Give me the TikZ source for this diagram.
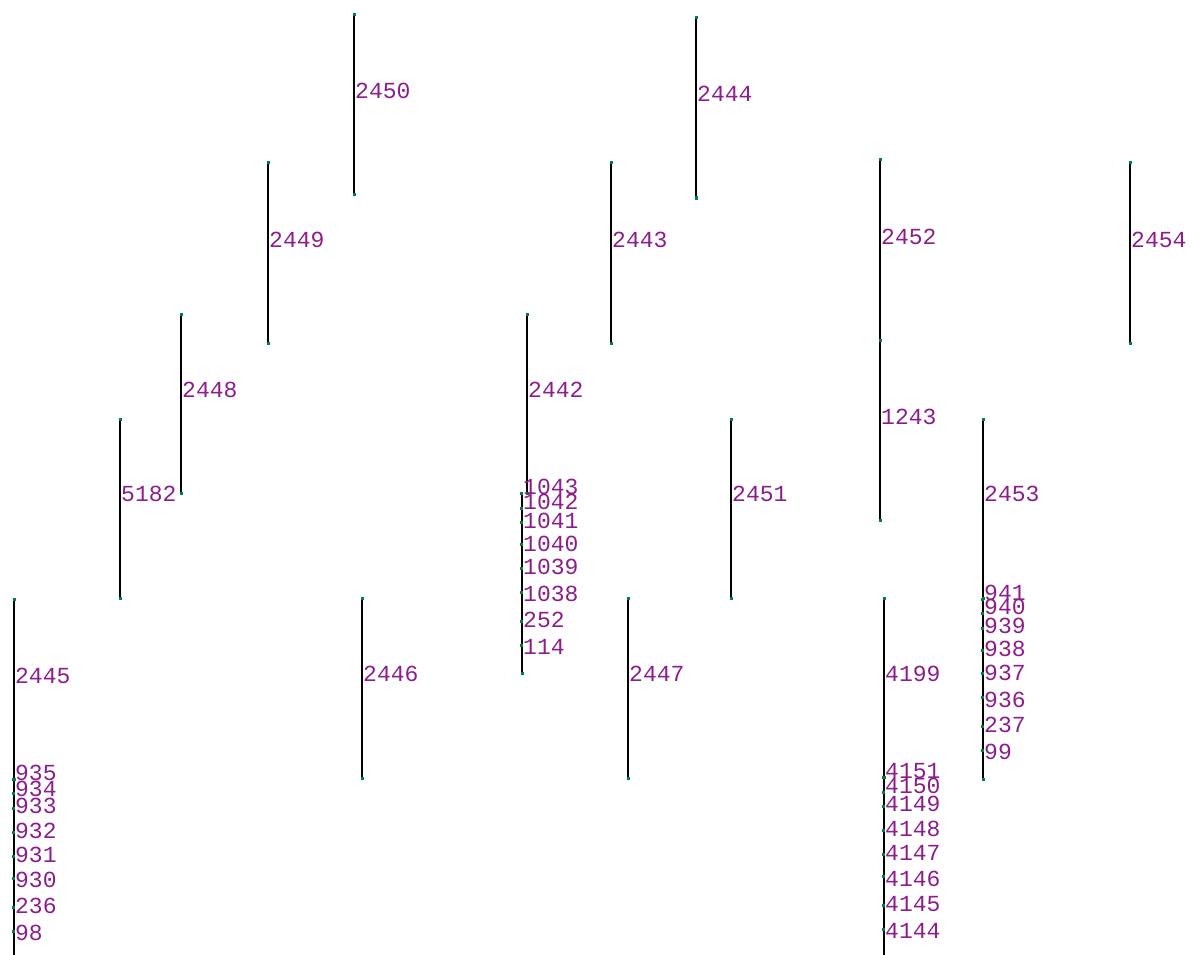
\documentclass[tikz,border=0pt]{standalone}
\usepackage{fontspec}
\newfontfamily\edgemono{Liberation Mono}
\usetikzlibrary{positioning}
\definecolor{pinGreen}{RGB}{0,128,70}
\definecolor{edgePurple}{RGB}{140,30,140}

\begin{document}
\begin{tikzpicture}[x=1pt,y=-1pt,
  pin/.style={rectangle,fill=pinGreen,inner sep=0pt,minimum size=3pt},
  edgelbl/.style={anchor=west,inner sep=0pt,text=edgePurple,font=\edgemono\fontsize{23}{23}\selectfont},
  edge/.style={line width=1.4pt,black}
]
  \useasboundingbox (0,0) rectangle (1192,955);

  % single edges: id/x/top/bottom/label
  \foreach \id/\x/\ya/\yb/\yl in {2450/354/15/195/91, 2444/696/18/198/94,
      2449/268/163/343/240, 2443/611/163/343/240, 2452/880/160/340/237,
      2454/1130/163/343/240, 2448/181/314/493/390, 2442/527/314/493/390,
      1243/880/340/520/417, 5182/120/419/598/494, 2451/731/419/598/494,
      2453/983/419/598/494, 2445/14/599/779/676, 2446/362/598/778/674,
      2447/628/598/778/674, 4199/884/598/777/674}{
    \coordinate (t\id) at (\x,\ya);
    \coordinate (b\id) at (\x,\yb);
    \draw[edge] (t\id) -- (b\id);
    \node[pin] (pt\id) at (t\id) {};
    \node[pin] (pb\id) at (b\id) {};
    \node[edgelbl] (l\id) at (\x+1,\yl) {\id};
  }

  % stacked edges
  \coordinate (e1043) at (522,673);
  \coordinate (s1043) at (522,493);
  \coordinate (e2453) at (983,779);
  \coordinate (e2445) at (14,955);
  \coordinate (e4199) at (884,955);
  \draw[edge] (s1043) -- (e1043);
  \draw[edge] (b2453) -- (e2453);
  \draw[edge] (b2445) -- (e2445);
  \draw[edge] (b4199) -- (e4199);
  \node[pin] (pe1043) at (e1043) {};
  \node[pin] (pe2453) at (e2453) {};

  \foreach \id/\yd/\yl in {1043/493/487, 1042/508/502, 1041/522/521,
      1040/544/544, 1039/568/567, 1038/592/594, 252/621/620, 114/645/647}{
    \node[pin] (p\id) at (521,\yd) {};
    \node[edgelbl] (l\id) at (523,\yl) {\id};
  }
  \foreach \id/\yd/\yl in {941/599/593, 940/613/607, 939/628/626,
      938/650/649, 937/673/673, 936/697/700, 237/726/725, 99/750/752}{
    \node[pin] (p\id) at (982,\yd) {};
    \node[edgelbl] (l\id) at (984,\yl) {\id};
  }
  \foreach \id/\yd/\yl in {935/779/773, 934/793/789, 933/808/806,
      932/832/831, 931/856/855, 930/878/880, 236/907/906, 98/931/933}{
    \node[pin] (p\id) at (13,\yd) {};
    \node[edgelbl] (l\id) at (15,\yl) {\id};
  }
  \foreach \id/\yd/\yl in {4151/777/771, 4150/792/786, 4149/806/804,
      4148/830/829, 4147/854/853, 4146/876/879, 4145/905/904, 4144/929/931}{
    \node[pin] (p\id) at (883,\yd) {};
    \node[edgelbl] (l\id) at (885,\yl) {\id};
  }
\end{tikzpicture}
\end{document}
